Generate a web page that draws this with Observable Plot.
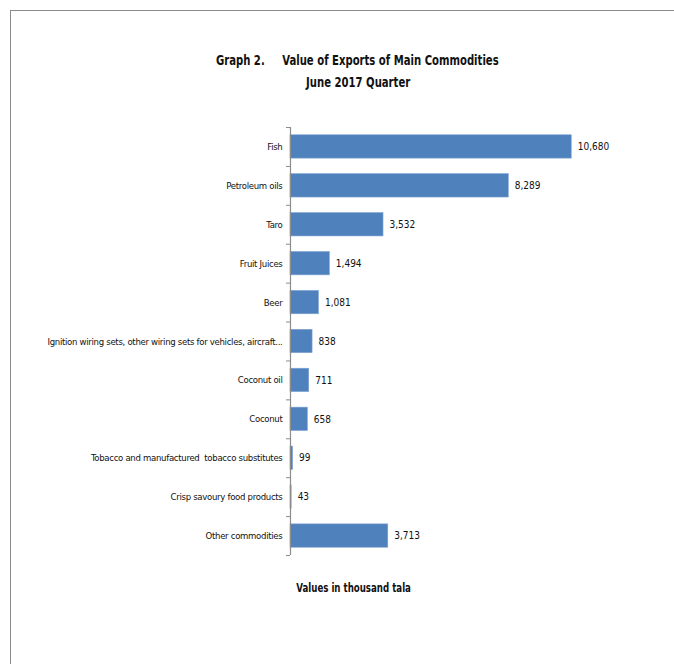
<!DOCTYPE html>
<html>
<head>
<meta charset="utf-8">
<script src="https://cdn.jsdelivr.net/npm/d3@7"></script>
<script src="https://cdn.jsdelivr.net/npm/@observablehq/plot@0.6"></script>
<style>
  html, body { margin: 0; padding: 0; background: #fff; overflow: hidden; }
  #wrap { position: relative; width: 674px; height: 664px; overflow: hidden; font-family: "DejaVu Sans Condensed", "Liberation Sans", sans-serif; }
  #frame { position: absolute; left: 10px; top: 10px; width: 700px; height: 700px; border-top: 1.5px solid #8a8a8a; border-left: 1.5px solid #8a8a8a; }
  .title { position: absolute; left: 0; width: 716px; text-align: center; font-weight: bold; font-size: 13.5px; color: #111; white-space: pre; transform: scaleX(0.83); transform-origin: 0 0; }
  #xlabel { position: absolute; left: 0; width: 884px; top: 581px; text-align: center; font-weight: bold; font-size: 12px; color: #111; white-space: pre; transform: scaleX(0.8); transform-origin: 0 0; }
  #chart { position: absolute; left: 0; top: 0; width: 674px; height: 664px; }
  #chart svg { width: 674px !important; height: 664px !important; max-width: none !important; }
  #chart g[aria-label="y-axis tick label"] text { letter-spacing: -0.3px; }
</style>
</head>
<body>
<div id="wrap">
  <div id="frame"></div>
  <div class="title" style="top:52px; width:861px">Graph 2.     Value of Exports of Main Commodities</div>
  <div class="title" style="top:74px; width:863px">June 2017 Quarter</div>
  <div id="chart"></div>
  <div id="xlabel">Values in thousand tala</div>
</div>
<script>
const categories = [
  "Fish",
  "Petroleum oils",
  "Taro",
  "Fruit Juices",
  "Beer",
  "Ignition wiring sets, other wiring sets for vehicles, aircraft...",
  "Coconut oil",
  "Coconut",
  "Tobacco and manufactured  tobacco substitutes",
  "Crisp savoury food products",
  "Other commodities"
];
const values = [10680, 8289, 3532, 1494, 1081, 838, 711, 658, 99, 43, 3713];

const data = categories.map((c, i) => ({category: c, value: values[i]}));

const W = 674, H = 664, mTop = 127, mBottom = 109, mLeft = 290, mRight = 68;
const step = (H - mTop - mBottom) / categories.length;
const font = '"DejaVu Sans Condensed", "Liberation Sans", sans-serif';

const chart = Plot.plot({
  width: W,
  height: H,
  marginTop: mTop,
  marginBottom: mBottom,
  marginLeft: mLeft,
  marginRight: mRight,
  style: {fontFamily: font, fontSize: "10px", color: "#111", background: "transparent"},
  x: {domain: [0, 12000], axis: null},
  y: {domain: categories, paddingInner: 0.4, paddingOuter: 0.2, round: false, label: null},
  marks: [
    Plot.barX(data, {x: "value", y: "category", fill: "#4f81bd", stroke: "#7ea3d3", strokeWidth: 0.6}),
    Plot.ruleX([0], {stroke: "#8c8c8c", strokeWidth: 1.2}),
    Plot.axisY({tickSize: 0, tickPadding: 8, fontSize: 9.5, fill: "#111"}),
    Plot.axisY({tickSize: 4, tickFormat: () => "", dy: -step / 2, stroke: "#8c8c8c"}),
    Plot.axisY({ticks: [categories[categories.length - 1]], tickSize: 4, tickFormat: () => "", dy: step / 2, stroke: "#8c8c8c"}),
    Plot.text(data, {x: "value", y: "category", text: d => d3.format(",")(d.value), dx: 6, textAnchor: "start", fontSize: 10, fill: "#111"})
  ]
});
document.getElementById("chart").appendChild(chart);
</script>
</body>
</html>
